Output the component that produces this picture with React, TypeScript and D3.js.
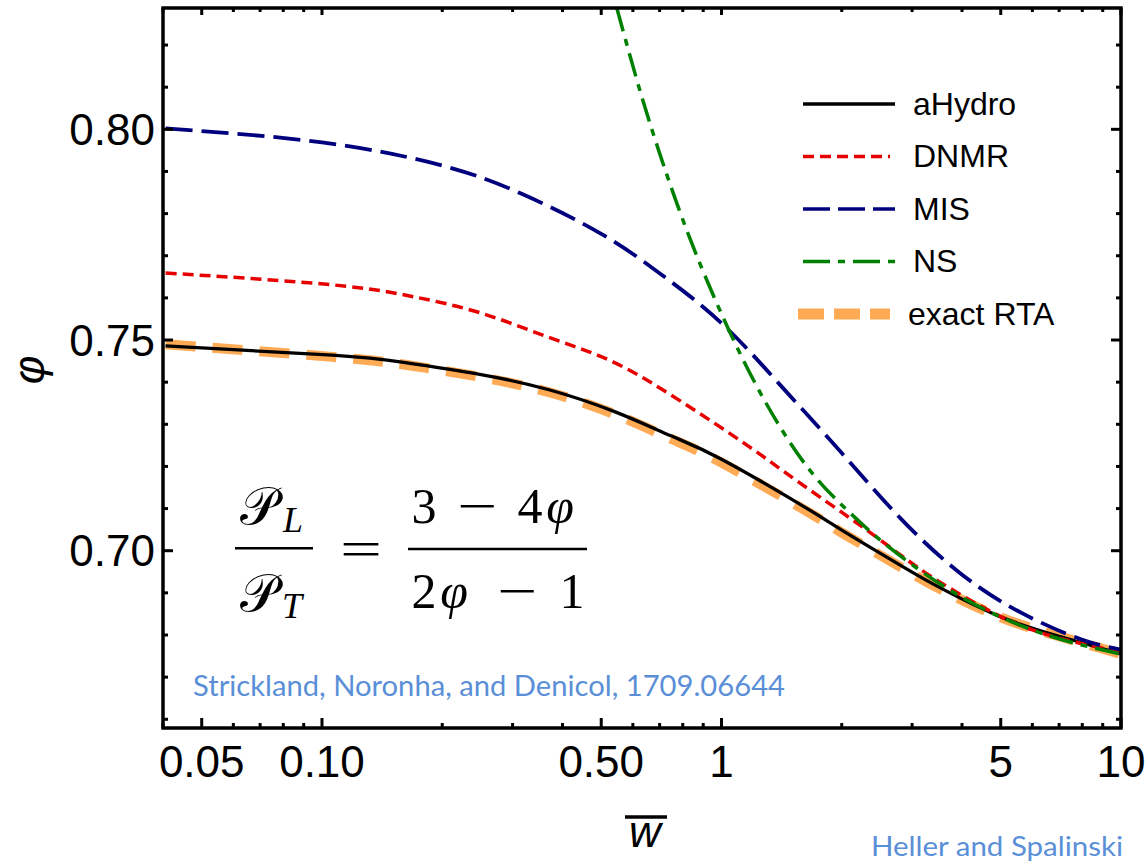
import React from "react";
import * as d3 from "d3";

// ---------- data ----------
const xMajorTicks = [0.05, 0.1, 0.5, 1, 5, 10];
const xTickLabels = ["0.05", "0.10", "0.50", "1", "5", "10"];
const xMinorTicks = [0.04, 0.06, 0.07, 0.08, 0.09, 0.2, 0.3, 0.4, 0.6, 0.7, 0.8, 0.9, 2, 3, 4, 6, 7, 8, 9];
const yMajorTicks = [0.7, 0.75, 0.8];
const yTickLabels = ["0.70", "0.75", "0.80"];
const yMinorTicks = [0.66, 0.67, 0.68, 0.69, 0.71, 0.72, 0.73, 0.74, 0.76, 0.77, 0.78, 0.79, 0.81, 0.82];

const aHydroW = [0.0406, 0.106, 0.16, 0.25, 0.37, 0.54, 0.75, 1.0, 1.6, 2.0, 2.8, 3.56, 5.0, 7.0, 10];
const aHydroPhi = [0.7486, 0.7464, 0.7447, 0.7418, 0.7382, 0.733, 0.7272, 0.7217, 0.7106, 0.7049, 0.6966, 0.691, 0.6843, 0.6797, 0.6755];

const rtaW = [0.0406, 0.106, 0.16, 0.25, 0.37, 0.54, 0.75, 1.0, 1.6, 2.0, 2.8, 3.56, 5.0, 7.0, 10];
const rtaPhi = [0.749, 0.746, 0.7442, 0.7412, 0.7376, 0.7324, 0.7265, 0.7209, 0.7099, 0.7043, 0.6962, 0.6907, 0.6842, 0.6797, 0.6755];

const dnmrW = [0.0406, 0.106, 0.171, 0.25, 0.368, 0.538, 0.79, 1.16, 1.57, 2.31, 3.08, 4.1, 6.0, 8.8, 10];
const dnmrPhi = [0.7659, 0.7631, 0.7602, 0.7564, 0.7507, 0.7447, 0.7355, 0.725, 0.7161, 0.7049, 0.6962, 0.6888, 0.6812, 0.6771, 0.6757];

const misW = [0.0406, 0.1, 0.2, 0.316, 0.5, 0.708, 1.0, 1.413, 2.0, 2.818, 3.98, 5.62, 7.94, 10];
const misPhi = [0.8002, 0.7969, 0.7914, 0.7847, 0.7752, 0.7655, 0.754, 0.739, 0.7232, 0.7075, 0.6945, 0.6853, 0.679, 0.6765];

const nsW = [0.547, 0.635, 0.768, 1.035, 1.592, 2.22, 2.96, 4.11, 6.0, 10];
const nsPhi = [0.8288, 0.807, 0.7832, 0.7531, 0.7215, 0.7068, 0.6971, 0.6883, 0.6812, 0.6755];

const legendNames = ["aHydro", "DNMR", "MIS", "NS", "exact RTA"];

// ---------- layout ----------
const W = 1147;
const H = 861;
const L = 163, R = 1121, T = 8, B = 728;

export default function App() {
  const x = d3.scaleLog().domain([0.04, 10]).range([L, R]);
  const y = d3.scaleLinear().domain([0.65793, 0.82879]).range([B, T]);
  const smooth = d3
    .line<[number, number]>()
    .x((d) => x(d[0]))
    .y((d) => y(d[1]))
    .curve(d3.curveNatural);
  const mono = d3
    .line<[number, number]>()
    .x((d) => x(d[0]))
    .y((d) => y(d[1]))
    .curve(d3.curveMonotoneX);
  const pts = (ws: number[], ps: number[]) => ws.map((w, i) => [w, ps[i]] as [number, number]);

  const series = [
    { key: "rta", d: smooth(pts(rtaW, rtaPhi)), color: "#ffaa55", width: 10, dash: "30,17" },
    { key: "ahydro", d: smooth(pts(aHydroW, aHydroPhi)), color: "#000000", width: 3.3, dash: "none" },
    { key: "dnmr", d: smooth(pts(dnmrW, dnmrPhi)), color: "#e60000", width: 3.5, dash: "11,6" },
    { key: "mis", d: smooth(pts(misW, misPhi)), color: "#00007f", width: 3.8, dash: "27,9" },
    { key: "ns", d: mono(pts(nsW, nsPhi)), color: "#008000", width: 3.5, dash: "24,8,7,8" },
  ];

  const legendStyles = [
    { color: "#000000", width: 3.3, dash: "none", x1: 803, x2: 895, tx: 913 },
    { color: "#e60000", width: 3.3, dash: "11,6", x1: 803, x2: 890, tx: 913 },
    { color: "#00007f", width: 3.5, dash: "27,8", x1: 803, x2: 895, tx: 913 },
    { color: "#008000", width: 3.3, dash: "27,8,7,8", x1: 803, x2: 895, tx: 913 },
    { color: "#ffaa55", width: 11, dash: "26,10", x1: 798, x2: 890, tx: 908 },
  ];
  const legendY0 = 104;
  const legendDY = 52.5;

  const axisFont = "'Liberation Sans', Arial, sans-serif";
  const serif = "'Liberation Serif', 'DejaVu Serif', serif";
  const blue = "#5a8fd8";

  return (
    <svg
      width={W}
      height={H}
      style={{ position: "absolute", left: 0, top: 0, background: "#fff" }}
      xmlns="http://www.w3.org/2000/svg"
    >
      <defs>
        <clipPath id="plotClip">
          <rect x={L} y={T} width={R - L} height={B - T} />
        </clipPath>
      </defs>
      <rect x={0} y={0} width={W} height={H} fill="#fff" />

      {/* curves */}
      <g clipPath="url(#plotClip)" fill="none">
        {series.map((s) => (
          <path
            key={s.key}
            d={s.d || ""}
            stroke={s.color}
            strokeWidth={s.width}
            strokeDasharray={s.dash}
            strokeLinecap="butt"
          />
        ))}
      </g>

      {/* frame */}
      <rect x={L} y={T} width={R - L} height={B - T} fill="none" stroke="#000" strokeWidth={3.5} />

      {/* ticks */}
      <g stroke="#000" strokeWidth={3}>
        {xMajorTicks.map((t) => (
          <g key={"xM" + t}>
            <line x1={x(t)} x2={x(t)} y1={B} y2={B - 10} />
            <line x1={x(t)} x2={x(t)} y1={T} y2={T + 7} />
          </g>
        ))}
        {xMinorTicks.map((t) => (
          <g key={"xm" + t}>
            <line x1={x(t)} x2={x(t)} y1={B} y2={B - 5} />
            <line x1={x(t)} x2={x(t)} y1={T} y2={T + 4} />
          </g>
        ))}
        {yMajorTicks.map((t) => (
          <g key={"yM" + t}>
            <line x1={L} x2={L + 10} y1={y(t)} y2={y(t)} />
            <line x1={R} x2={R - 10} y1={y(t)} y2={y(t)} />
          </g>
        ))}
        {yMinorTicks.map((t) => (
          <g key={"ym" + t}>
            <line x1={L} x2={L + 5} y1={y(t)} y2={y(t)} />
            <line x1={R} x2={R - 5} y1={y(t)} y2={y(t)} />
          </g>
        ))}
      </g>

      {/* tick labels */}
      <g fontFamily={axisFont} fontSize={44} fill="#000">
        {xMajorTicks.map((t, i) => (
          <text key={"xl" + t} x={x(t)} y={777} textAnchor="middle">
            {xTickLabels[i]}
          </text>
        ))}
        {yMajorTicks.map((t, i) => (
          <text key={"yl" + t} x={155} y={y(t) + 15.5} textAnchor="end">
            {yTickLabels[i]}
          </text>
        ))}
      </g>

      {/* axis labels */}
      <text
        x={0}
        y={0}
        transform="translate(44,370) rotate(-90)"
        textAnchor="middle"
        fontFamily={axisFont}
        fontStyle="italic"
        fontSize={44}
      >
        φ
      </text>
      <text x={645} y={847} textAnchor="middle" fontFamily={axisFont} fontStyle="italic" fontSize={44}>
        w
      </text>
      <line x1={625} x2={667} y1={817} y2={817} stroke="#000" strokeWidth={3.5} />

      {/* legend */}
      <g>
        {legendNames.map((n, i) => {
          const st = legendStyles[i];
          const ly = legendY0 + i * legendDY;
          return (
            <g key={n}>
              <line
                x1={st.x1}
                x2={st.x2}
                y1={ly}
                y2={ly}
                stroke={st.color}
                strokeWidth={st.width}
                strokeDasharray={st.dash}
              />
              <text x={st.tx} y={ly + 10.5} fontFamily={axisFont} fontSize={32} fill="#000">
                {n}
              </text>
            </g>
          );
        })}
      </g>

      {/* formula */}
      <g fontFamily={serif} fill="#000">
        <text x={258} y={524} fontSize={52} textAnchor="middle">𝒫</text>
        <text x={283} y={532} fontSize={36} fontStyle="italic">L</text>
        <line x1={235} x2={313} y1={548.3} y2={548.3} stroke="#000" strokeWidth={2.5} />
        <text x={258} y={611} fontSize={52} textAnchor="middle">𝒫</text>
        <text x={282} y={618} fontSize={36} fontStyle="italic">T</text>

        <text x={361} y={566} fontSize={50} textAnchor="middle" textLength={42} lengthAdjust="spacingAndGlyphs">=</text>

        <text x={424} y={523} fontSize={50} textAnchor="middle">3</text>
        <text x={477} y={523} fontSize={50} textAnchor="middle" textLength={40} lengthAdjust="spacingAndGlyphs">−</text>
        <text x={530} y={523} fontSize={50} textAnchor="middle">4</text>
        <text x={560} y={523} fontSize={50} textAnchor="middle" fontStyle="italic">φ</text>
        <line x1={408} x2={587} y1={549} y2={549} stroke="#000" strokeWidth={2.5} />
        <text x={424} y={608} fontSize={50} textAnchor="middle">2</text>
        <text x={454} y={608} fontSize={50} textAnchor="middle" fontStyle="italic">φ</text>
        <text x={517} y={608} fontSize={50} textAnchor="middle" textLength={40} lengthAdjust="spacingAndGlyphs">−</text>
        <text x={572} y={608} fontSize={50} textAnchor="middle">1</text>
      </g>

      {/* credits */}
      <text x={193} y={696} fontFamily="Lato, 'Open Sans', sans-serif" fontSize={28} fill={blue} textLength={592} lengthAdjust="spacingAndGlyphs">
        Strickland, Noronha, and Denicol, 1709.06644
      </text>
      <text x={871} y={856} fontFamily="Lato, 'Open Sans', sans-serif" fontSize={27} fill={blue} textLength={252} lengthAdjust="spacingAndGlyphs">
        Heller and Spalinski
      </text>
    </svg>
  );
}
